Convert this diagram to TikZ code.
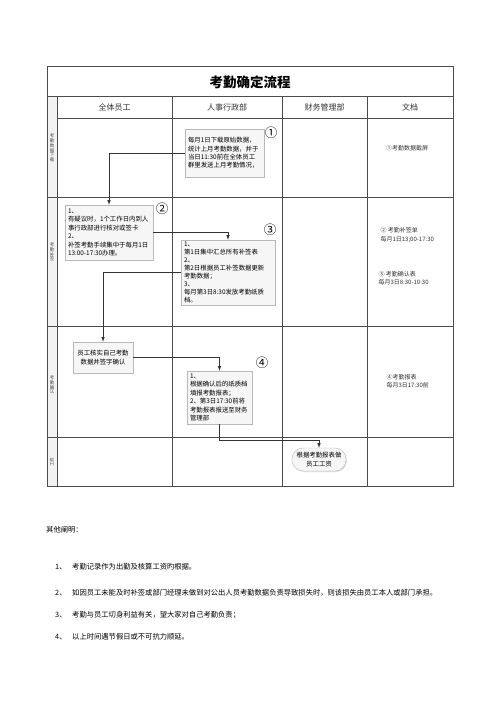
\documentclass[tikz,border=0pt]{standalone}
\usepackage{fontspec}
\setmainfont{Noto Sans CJK SC}
\usetikzlibrary{shapes, shadows}
\def\boxfont{\fontsize{6.4}{8.4}\selectfont}
\def\docfont{\fontsize{6}{8.4}\selectfont}
\def\notefont{\fontsize{7.3}{9}\selectfont}
\def\lanefont{\fontsize{4.5}{4.7}\selectfont}

\begin{document}
\begin{tikzpicture}[x=1pt, y=-1pt, >=latex,
	grid/.style={draw=gray!60!black, line width=0.5pt},
	flowbox/.style={draw=gray!55, fill=gray!7, drop shadow={opacity=0.25, shadow xshift=1pt, shadow yshift=-1pt}, inner xsep=3pt, inner ysep=1pt, align=left, font=\boxfont},
	flowarrow/.style={->, draw=black!80, line width=0.6pt},
	circnum/.style={font=\fontsize{12.5}{12.5}\selectfont, inner sep=0pt},
	lanelabel/.style={font=\lanefont, align=center, inner sep=0pt, text=black!70},
	headlabel/.style={font=\fontsize{8}{8}\selectfont, text=black!80},
	doclabel/.style={font=\docfont, align=left, anchor=west, text=black!80},
	note/.style={font=\notefont, anchor=west, inner sep=0pt}]
	\useasboundingbox (0,0) rectangle (500,707);

	\fill[gray!10] (47,96) rectangle (57,486);
	\draw[grid] (47,66) rectangle (453,486);
	\draw[grid] (47,96) -- (453,96) (57,118) -- (453,118);
	\draw[grid] (47,197) -- (453,197) (47,326) -- (453,326) (47,437) -- (453,437);
	\draw[grid] (57,96) -- (57,486) (172,96) -- (172,486) (282,96) -- (282,486) (367,96) -- (367,486);

	\node[font=\fontsize{13.5}{13.5}\selectfont\bfseries] (title) at (250,82) {考勤确定流程};
	\node[headlabel] (staff) at (114.5,107) {全体员工};
	\node[headlabel] (hr) at (227,107) {人事行政部};
	\node[headlabel] (finance) at (324.5,107) {财务管理部};
	\node[headlabel] (docs) at (410,107) {文档};

	\node[lanelabel] (lane1) at (52,148) {考\\勤\\数\\据\\下\\载};
	\node[lanelabel] (lane2) at (52,252) {考\\勤\\补\\签};
	\node[lanelabel] (lane3) at (52,385) {考\\勤\\确\\认};
	\node[lanelabel, rotate=90] (lane4) at (52,462) {工资};

	\node[flowbox, text width=73pt, minimum height=48pt] (b1) at (224.5,153) {每月1日下载原始数据，\\统计上月考勤数据，并于\\当日11:30前在全体员工\\群里发送上月考勤情况，};
	\node[circnum] (c1) at (271,133) {①};
	\node[flowbox, text width=82pt, minimum height=55pt] (b2) at (109,232.5) {1、\\有疑议时，1个工作日内到人\\事行政部进行核对或签卡\\2、\\补签考勤手续集中于每月1日\\13:00-17:30办理。};
	\node[circnum] (c2) at (162,209) {②};
	\node[flowbox, text width=88pt, minimum height=65pt, font=\fontsize{6.4}{8}\selectfont] (b3) at (228,272.5) {1、\\第1日集中汇总所有补签表\\2、\\第2日根据员工补签数据更新\\考勤数据；\\3、\\每月第3日8:30发放考勤纸质\\档。};
	\node[circnum] (c3) at (270,230) {③};
	\node[flowbox, text width=54pt, minimum height=31pt, align=center] (b4) at (103,357.5) {员工核实自己考勤\\数据并签字确认};
	\node[flowbox, text width=59pt, minimum height=53pt] (b5) at (219.5,397.5) {1、\\根据确认后的纸质档\\填报考勤报表；\\2、第3日17:30前将\\考勤报表报送至财务\\管理部};
	\node[circnum] (c4) at (262,363) {④};
	\node[flowbox, rounded corners=11pt, minimum width=54pt, minimum height=23pt, align=center, inner xsep=1pt] (pay) at (319,459.5) {根据考勤报表做\\员工工资};

	\draw[flowarrow] (b1.west) -| (b2.north);
	\draw[flowarrow] (b2.east) -| (b3.north);
	\draw[flowarrow] (b3.west) -| (b4.north);
	\draw[flowarrow] (b4.east) -| (b5.north);
	\draw[flowarrow] (b5.south) -- ++(0,16) -| (pay.north);

	\node[font=\docfont, text=black!80] (d1) at (407,148) {①考勤数据截屏};
	\node[doclabel] (d2) at (377,235) {② 考勤补签单\\每月1日13;00-17:30};
	\node[doclabel] (d3) at (375,278) {③ 考勤确认表\\每月3日8:30-10:30};
	\node[doclabel] (d4) at (383,381.5) {④考勤报表\\每月3日17:30前};

	\node[note] (other) at (46,530) {其他阐明：};
	\node[note] (n1) at (55,567) {1、};
	\node[note] (t1) at (72,567) {考勤记录作为出勤及核算工资旳根据。};
	\node[note] (n2) at (55,593) {2、};
	\node[note] (t2) at (72,593) {如因员工未能及时补签或部门经理未做到对公出人员考勤数据负责导致损失时，则该损失由员工本人或部门承担。};
	\node[note] (n3) at (55,615) {3、};
	\node[note] (t3) at (72,615) {考勤与员工切身利益有关，望大家对自己考勤负责；};
	\node[note] (n4) at (55,637) {4、};
	\node[note] (t4) at (72,637) {以上时间遇节假日或不可抗力顺延。};
\end{tikzpicture}
\end{document}
